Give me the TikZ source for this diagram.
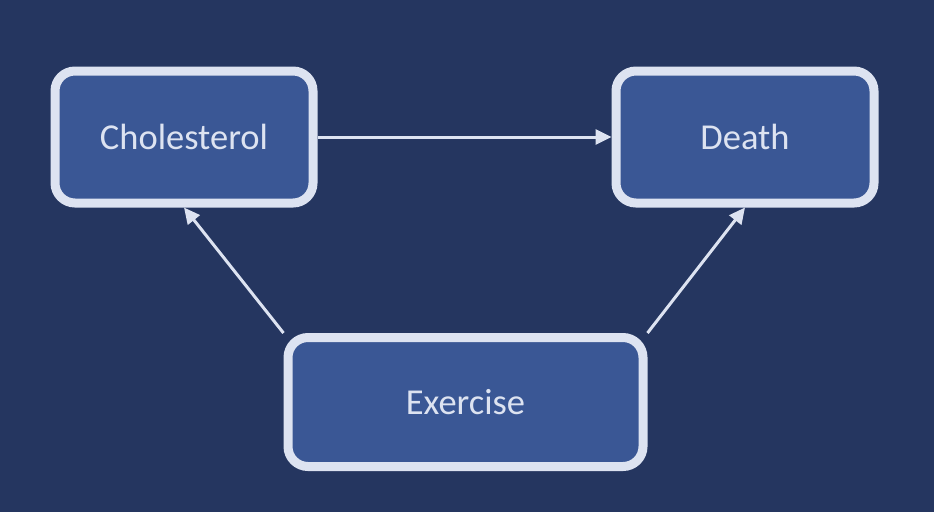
\documentclass[tikz,border=0pt]{standalone}
\usepackage{fontspec}
\newfontfamily\boxfont{Carlito}
\usetikzlibrary{arrows.meta}

\definecolor{navybg}{HTML}{253660}
\definecolor{boxblue}{HTML}{3A5795}
\definecolor{paleline}{HTML}{DDE3F1}

\tikzset{
  varbox/.style={draw=paleline, fill=boxblue, line width=9pt, rounded corners=20pt,
    text=paleline, font=\boxfont\fontsize{36.5}{42}\selectfont},
  causal/.style={draw=paleline, line width=3pt, -{Triangle[length=16pt,width=15pt]}}
}

\begin{document}
\begin{tikzpicture}[x=1pt,y=-1pt]

\fill[navybg] (0,0) rectangle (934,512);
\useasboundingbox (0,0) rectangle (934,512);

\node[varbox, minimum width=258pt, minimum height=132pt] (chol) at (184,137) {Cholesterol};
\node[varbox, minimum width=258pt, minimum height=132pt] (death) at (745,137) {Death};
\node[varbox, minimum width=355pt, minimum height=129pt] (exercise) at (465.5,402) {Exercise};

\draw[causal] (chol.east) -- (death.west);
\draw[causal] (exercise.north west) -- (chol.south);
\draw[causal] (exercise.north east) -- (death.south);
\end{tikzpicture}
\end{document}
